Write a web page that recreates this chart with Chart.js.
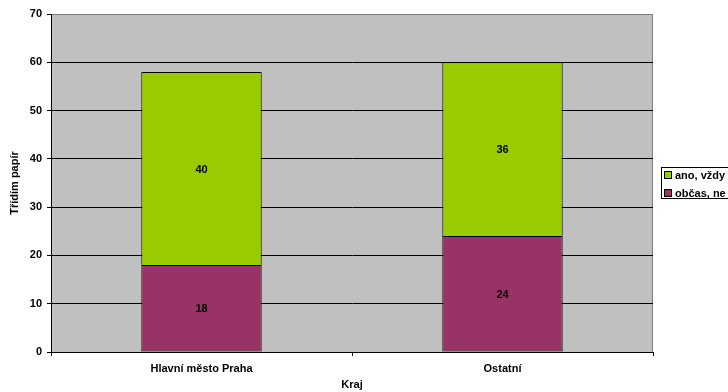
<!DOCTYPE html>
<html><head><meta charset="utf-8">
<script src="https://cdn.jsdelivr.net/npm/chart.js@4"></script>
<style>html,body{margin:0;padding:0;background:#fff;overflow:hidden}#wrap{width:728px;height:392px;position:relative}</style>
</head><body><div id="wrap"><canvas id="c" width="728" height="392"></canvas></div>
<script>
const categories = ['Hlavní město Praha', 'Ostatní'];
const seriesNames = ['občas, ne', 'ano, vždy'];
const obcasNe = [18, 24];
const anoVzdy = [40, 36];
const yTicks = [0, 10, 20, 30, 40, 50, 60, 70];
const xTitle = 'Kraj';
const yTitle = 'Třídím papír';

const FONT = {family: 'Arial, "Liberation Sans", sans-serif', size: 11, weight: 'bold'};
const fontStr = 'bold 11px Arial, "Liberation Sans", sans-serif';

const plotBg = {
  id: 'plotBg',
  beforeDraw(chart) {
    const {ctx, chartArea: a} = chart;
    ctx.save();
    ctx.fillStyle = '#C0C0C0';
    ctx.fillRect(a.left, a.top, a.right - a.left, a.bottom - a.top);
    ctx.strokeStyle = '#808080';
    ctx.lineWidth = 1;
    ctx.strokeRect(a.left + 0.5, a.top + 0.5, a.right - a.left - 1, a.bottom - a.top);
    ctx.restore();
  }
};

const valueLabels = {
  id: 'valueLabels',
  afterDatasetsDraw(chart) {
    const {ctx} = chart;
    ctx.save();
    ctx.font = fontStr;
    ctx.fillStyle = '#000';
    ctx.textAlign = 'center';
    ctx.textBaseline = 'middle';
    chart.data.datasets.forEach((ds, i) => {
      chart.getDatasetMeta(i).data.forEach((el, j) => {
        ctx.fillText(String(ds.data[j]), el.x, (el.y + el.base) / 2 + 1);
      });
    });
    ctx.restore();
  }
};

const boxLegend = {
  id: 'boxLegend',
  afterDraw(chart) {
    const {ctx} = chart;
    const x0 = 661, y0 = 167;
    ctx.save();
    ctx.fillStyle = '#fff';
    ctx.fillRect(x0, y0, 120, 32);
    ctx.strokeStyle = '#000';
    ctx.lineWidth = 1;
    ctx.strokeRect(x0 + 0.5, y0 + 0.5, 120, 31);
    ctx.font = fontStr;
    ctx.textBaseline = 'middle';
    ctx.textAlign = 'left';
    const order = chart.data.datasets.map((d, i) => i).reverse();
    order.forEach((di, k) => {
      const ds = chart.data.datasets[di];
      const cy = y0 + 8 + k * 18;
      ctx.fillStyle = ds.backgroundColor;
      ctx.fillRect(x0 + 3, cy - 4, 8, 8);
      ctx.strokeStyle = '#000';
      ctx.strokeRect(x0 + 3.5, cy - 3.5, 7, 7);
      ctx.fillStyle = '#000';
      ctx.fillText(ds.label, x0 + 14, cy + 1);
    });
    ctx.restore();
  }
};

new Chart(document.getElementById('c'), {
  type: 'bar',
  data: {
    labels: categories,
    datasets: [
      {label: seriesNames[0], data: obcasNe, backgroundColor: '#993366', borderColor: '#000', borderWidth: 1, borderSkipped: false},
      {label: seriesNames[1], data: anoVzdy, backgroundColor: '#99CC00', borderColor: '#000', borderWidth: 1, borderSkipped: 'bottom'}
    ]
  },
  options: {
    responsive: false,
    animation: false,
    devicePixelRatio: 1,
    barPercentage: 0.4,
    categoryPercentage: 1,
    layout: {padding: {top: 14, right: 75, left: 0, bottom: 0}},
    plugins: {legend: {display: false}, tooltip: {enabled: false}},
    scales: {
      x: {
        stacked: true,
        offset: true,
        grid: {display: true, drawOnChartArea: false, drawTicks: true, tickLength: 4, color: '#000', offset: true},
        border: {display: true, color: '#000'},
        ticks: {font: FONT, color: '#000', padding: 6, maxRotation: 0},
        title: {display: true, text: xTitle, font: FONT, color: '#000', padding: {top: 0, bottom: 0}},
        afterFit(s) { s.height = 40; }
      },
      y: {
        stacked: true,
        min: 0,
        max: 70,
        afterBuildTicks(s) { s.ticks = yTicks.map(v => ({value: v})); },
        ticks: {font: FONT, color: '#000', padding: 5},
        grid: {color: c => (c.tick && c.tick.value === 70 ? '#808080' : '#000'), tickColor: '#000', tickLength: 4, drawTicks: true},
        border: {display: true, color: '#000'},
        title: {display: true, text: yTitle, font: FONT, color: '#000', padding: {top: 8, bottom: 0}},
        afterFit(s) { s.width = 51; }
      }
    }
  },
  plugins: [plotBg, valueLabels, boxLegend]
});
</script>
</body></html>
